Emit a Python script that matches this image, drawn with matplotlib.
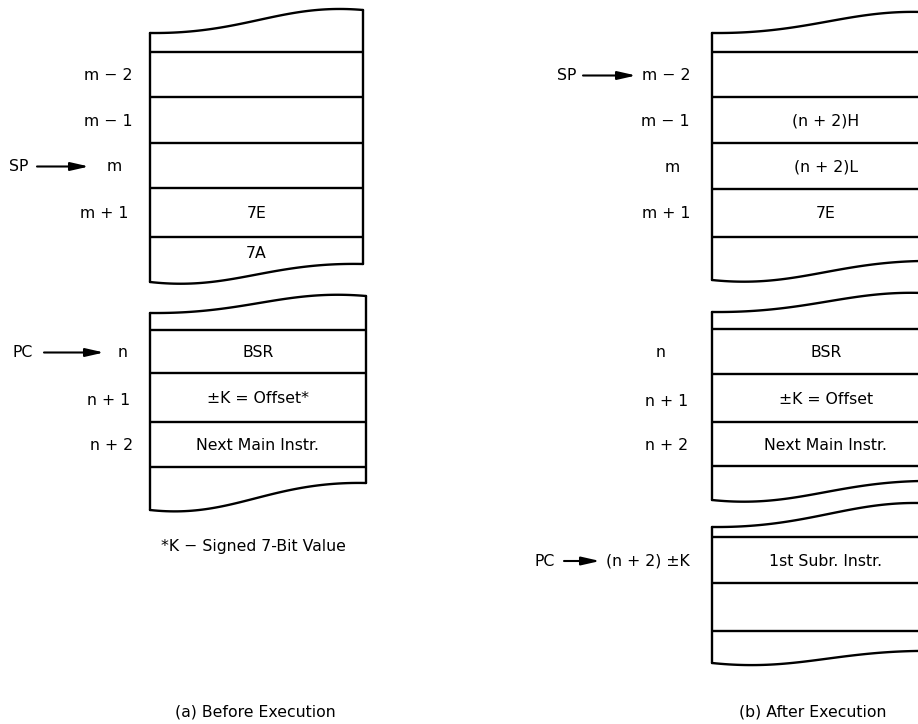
import matplotlib
matplotlib.use("Agg")
import numpy as np
import matplotlib.pyplot as plt

# ---------------- data ----------------
a_stack_cells = ["", "", "", "7E", "7A"]
a_stack_addrs = ["m − 2", "m − 1", "m", "m + 1"]
a_prog_cells = ["BSR", "±K = Offset*", "Next Main Instr.", ""]
a_prog_addrs = ["n", "n + 1", "n + 2"]
a_footnote = "*K − Signed 7-Bit Value"
a_caption = "(a) Before Execution"

b_stack_cells = ["", "(n + 2)H", "(n + 2)L", "7E", ""]
b_stack_addrs = ["m − 2", "m − 1", "m", "m + 1"]
b_prog_cells = ["BSR", "±K = Offset", "Next Main Instr.", ""]
b_prog_addrs = ["n", "n + 1", "n + 2"]
b_sub_cells = ["1st Subr. Instr.", "", ""]
b_sub_addrs = ["(n + 2) ±K"]
b_caption = "(b) After Execution"

sp_label = "SP"
pc_label = "PC"

# ---------------- drawing ----------------
W, H = 918, 724
fig = plt.figure(figsize=(W / 100, H / 100), dpi=100)
ax = fig.add_axes([0, 0, 1, 1])
ax.set_xlim(0, W)
ax.set_ylim(H, 0)
ax.axis("off")

FONT = "DejaVu Sans"
FS = 11.3
LW = 1.7


def txt(x, y, s, ha="center", fs=FS):
    ax.text(x, y, s, ha=ha, va="center", fontsize=fs, family=FONT, color="black")


def bezier(p0, p1, p2, p3, n=60):
    t = np.linspace(0, 1, n)[:, None]
    p0, p1, p2, p3 = map(np.asarray, (p0, p1, p2, p3))
    pts = ((1 - t) ** 3) * p0 + 3 * ((1 - t) ** 2) * t * p1 + 3 * (1 - t) * t ** 2 * p2 + t ** 3 * p3
    return pts[:, 0], pts[:, 1]


def draw_stack(xl, xr, top_l, top_r, lines, bot_l, bot_r, cells):
    w = xr - xl
    kw = dict(color="black", lw=LW, solid_capstyle="round", solid_joinstyle="round")
    ax.plot([xl, xl], [top_l, bot_l], **kw)
    ax.plot([xr, xr], [top_r, bot_r], **kw)
    bx, by = bezier((xl, top_l), (xl + 0.45 * w, top_l + 1),
                    (xl + 0.62 * w, top_r - 7), (xr, top_r))
    ax.plot(bx, by, **kw)
    bx, by = bezier((xl, bot_l), (xl + 0.38 * w, bot_l + 9),
                    (xl + 0.55 * w, bot_r - 2), (xr, bot_r))
    ax.plot(bx, by, **kw)
    for y in lines:
        ax.plot([xl, xr], [y, y], color="black", lw=LW, solid_capstyle="butt")
    bounds = list(lines) + [(bot_l + bot_r) / 2 - 6]
    xc = (xl + xr) / 2
    for i, s in enumerate(cells):
        if i + 1 < len(bounds) and s:
            txt(xc, (bounds[i] + bounds[i + 1]) / 2 + 1, s)
    return bounds


def pointer(x0, x1, y):
    ax.annotate("", xy=(x1, y), xytext=(x0, y),
                arrowprops=dict(arrowstyle="-|>,head_length=1.1,head_width=0.25",
                                color="black", lw=1.5, shrinkA=0, shrinkB=0))


# ---- (a) stack memory ----
ba = draw_stack(150, 363, 33, 10, [52, 97, 143, 188, 237], 282, 264, a_stack_cells)
rows = [(ba[i] + ba[i + 1]) / 2 + 1 for i in range(4)]
txt(133, rows[0], a_stack_addrs[0], ha="right")
txt(133, rows[1], a_stack_addrs[1], ha="right")
txt(114, rows[2], a_stack_addrs[2])
txt(129, rows[3], a_stack_addrs[3], ha="right")
txt(9, rows[2], sp_label, ha="left")
pointer(37, 89, rows[2])

# ---- (a) program memory ----
bp = draw_stack(150, 366, 313, 296, [330, 373, 422, 467], 510, 483, a_prog_cells)
rows = [(bp[i] + bp[i + 1]) / 2 + 1 for i in range(3)]
txt(123, rows[0], a_prog_addrs[0])
txt(130, rows[1] + 2, a_prog_addrs[1], ha="right")
txt(133, rows[2], a_prog_addrs[2], ha="right")
txt(12, rows[0], pc_label, ha="left")
pointer(44, 104, rows[0])
txt(253, 547, a_footnote)
txt(255, 712, a_caption)

# ---- (b) stack memory ----
bb = draw_stack(712, 940, 33, 13, [52, 97, 143, 189, 237], 280, 261, b_stack_cells)
rows = [(bb[i] + bb[i + 1]) / 2 + 1 for i in range(4)]
txt(690, rows[0], b_stack_addrs[0], ha="right")
txt(690, rows[1], b_stack_addrs[1], ha="right")
txt(672, rows[2], b_stack_addrs[2])
txt(690, rows[3], b_stack_addrs[3], ha="right")
txt(557, rows[0], sp_label, ha="left")
pointer(583, 636, rows[0])

# ---- (b) program memory ----
bq = draw_stack(712, 940, 312, 294, [329, 374, 422, 466], 500, 481, b_prog_cells)
rows = [(bq[i] + bq[i + 1]) / 2 + 1 for i in range(3)]
txt(661, rows[0], b_prog_addrs[0])
txt(688, rows[1] + 2, b_prog_addrs[1], ha="right")
txt(688, rows[2], b_prog_addrs[2], ha="right")

# ---- (b) subroutine memory ----
bs = draw_stack(712, 940, 527, 504, [537, 583, 631], 663, 651, b_sub_cells)
rows = [(bs[i] + bs[i + 1]) / 2 + 1 for i in range(1)]
txt(690, rows[0], b_sub_addrs[0], ha="right")
txt(535, rows[0], pc_label, ha="left")
pointer(564, 600, rows[0])
txt(813, 712, b_caption)

fig.savefig("out.png", dpi=100, facecolor="white")
